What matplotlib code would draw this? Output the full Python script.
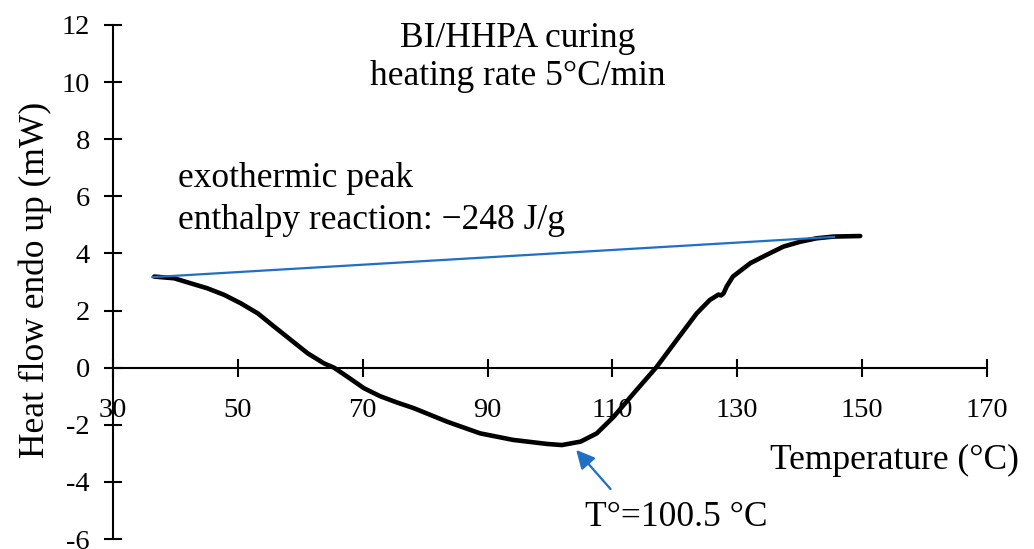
import matplotlib
matplotlib.use("Agg")
import matplotlib.pyplot as plt

plt.rcParams['font.family'] = ['Liberation Serif', 'DejaVu Serif']

# DSC curve
temp = [36.6, 39.8, 42.5, 45.1, 47.8, 50.5, 53.2, 55.8, 58.5, 61.2, 63.8, 65.4,
        67.5, 70.2, 72.8, 75.5, 78.2, 83.5, 88.8, 94.1, 99.5, 101.9, 104.9,
        107.5, 110.2, 113.4, 117.1, 120.3, 123.5, 125.6, 127.0, 127.4, 127.8,
        128.3, 129.3, 132.1, 134.7, 137.4, 140.1, 142.7, 145.4, 149.7]
heat = [3.19, 3.13, 2.95, 2.78, 2.55, 2.25, 1.9, 1.44, 0.97, 0.5, 0.15, 0.0,
        -0.31, -0.72, -1.0, -1.22, -1.42, -1.89, -2.3, -2.53, -2.67, -2.71, -2.59,
        -2.3, -1.72, -0.9, 0.03, 0.97, 1.9, 2.37, 2.56, 2.53, 2.6,
        2.84, 3.19, 3.66, 3.95, 4.24, 4.41, 4.53, 4.59, 4.61]

base_t = [36.3, 145.5]
base_h = [3.17, 4.58]

xticks = [30, 50, 70, 90, 110, 130, 150, 170]
yticks = [-6, -4, -2, 0, 2, 4, 6, 8, 10, 12]

big = 25.5

fig = plt.figure(figsize=(10.34, 5.49), dpi=100)
ax = fig.add_axes([0.1093, 0.0182, 0.8452, 0.9363])

ax.plot(temp, heat, color='black', lw=3.3, solid_joinstyle='round',
        solid_capstyle='round', zorder=3)
ax.plot(base_t, base_h, color='#1F6FC5', lw=1.6, zorder=4)

ax.set_xlim(30, 170)
ax.set_ylim(-6, 12)
ax.set_xticks(xticks)
ax.set_yticks(yticks)
ax.set_yticklabels([str(v) for v in yticks])

ax.spines['left'].set_position(('data', 30))
ax.spines['bottom'].set_position(('data', 0))
ax.spines['top'].set_visible(False)
ax.spines['right'].set_visible(False)
for s in ['left', 'bottom']:
    ax.spines[s].set_linewidth(1.5)

ax.tick_params(axis='both', direction='inout', length=13, width=1.5, labelsize=20.5)
ax.tick_params(axis='x', pad=15)
ax.tick_params(axis='y', pad=10)

fig.text(0.034, 0.49, 'Heat flow endo up (mW)', rotation=90, fontsize=big,
         ha='center', va='center')
fig.text(0.985, 0.162, 'Temperature (°C)', fontsize=big, ha='right', va='center')

fig.text(0.501, 0.929, 'BI/HHPA curing', fontsize=big, ha='center', va='center')
fig.text(0.501, 0.861, 'heating rate 5°C/min', fontsize=big, ha='center', va='center')

ax.text(40.4, 6.64, 'exothermic peak', fontsize=big, va='center', ha='left')
ax.text(40.4, 5.17, 'enthalpy reaction: \u2212248 J/g', fontsize=big, va='center', ha='left')

ax.annotate('', xy=(104.2, -2.88), xytext=(109.7, -4.25),
            arrowprops=dict(arrowstyle='-|>', color='#1F6FC5', lw=1.6,
                            mutation_scale=28, shrinkA=0, shrinkB=0))
ax.text(120.3, -5.23, 'T°=100.5 °C', fontsize=big, ha='center', va='center')

fig.savefig('out.png', dpi=100)
